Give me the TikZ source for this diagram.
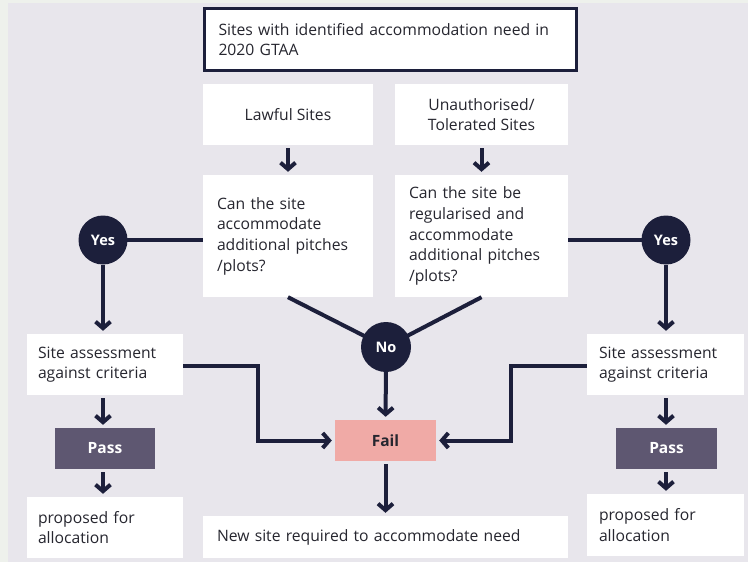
\documentclass[tikz,border=0pt]{standalone}
\usepackage{fontspec}
\setmainfont{Open Sans}
\usetikzlibrary{arrows.meta,calc}
\definecolor{navy}{HTML}{1C1F3B}
\definecolor{panel}{HTML}{E8E6EC}
\definecolor{outer}{HTML}{EEF1EC}
\definecolor{passc}{HTML}{5E5771}
\definecolor{failc}{HTML}{F0AAA6}
\definecolor{txt}{HTML}{26262F}
\tikzset{
  every node/.style={font=\fontsize{15.7}{20.7}\selectfont, text=txt},
  wbox/.style={fill=white, draw=none, inner ysep=0pt, align=left},
  cbox/.style={fill=white, draw=none, inner ysep=0pt, align=center},
  topbox/.style={fill=white, draw=navy, line width=3.5pt, inner ysep=0pt, align=left},
  passbox/.style={fill=passc, draw=none, text=white, font=\fontsize{15.5}{18}\selectfont\bfseries, inner sep=0pt},
  failbox/.style={fill=failc, draw=none, text=txt, font=\fontsize{15.5}{18}\selectfont\bfseries, inner sep=0pt},
  dot/.style={circle, fill=navy, draw=none, minimum size=#1, inner sep=0pt, text=white, font=\fontsize{14.5}{16}\selectfont\bfseries},
  conn/.style={draw=navy, line width=4pt},
  arr/.style={conn, -{Straight Barb[length=6.5pt,width=15pt]}, shorten <=3pt, shorten >=3pt},
}
\begin{document}
\begin{tikzpicture}[x=1pt,y=-1pt]
\fill[outer] (0,0) rectangle (748,562);
\fill[panel] (8,3) rectangle (748,562);
\useasboundingbox (0,0) rectangle (748,562);

\node[topbox, minimum height=62pt, text width=344pt, inner xsep=14pt] (top) at (390.5,39.5)
  {Sites with identified accommodation need in\\2020 GTAA};
\node[cbox, minimum width=170pt, minimum height=61pt] (lawful) at (288,114.5) {Lawful Sites};
\node[cbox, minimum width=173pt, minimum height=61pt] (unauth) at (481.5,114.5) {Unauthorised/\\Tolerated Sites};
\node[wbox, text width=142pt, inner xsep=14pt, minimum height=122pt] (qL) at (288,236)
  {Can the site\\accommodate\\additional pitches\\/plots?};
\node[wbox, text width=145pt, inner xsep=14pt, minimum height=122pt] (qR) at (481.5,236)
  {Can the site be\\regularised and\\accommodate\\additional pitches\\/plots?};

\node[wbox, text width=134pt, inner xsep=11pt, minimum height=61pt] (saL) at (105,364.5)
  {Site assessment\\against criteria};
\node[wbox, text width=133pt, inner xsep=12pt, minimum height=61pt] (saR) at (665.5,364.5)
  {Site assessment\\against criteria};
\node[passbox, minimum width=100pt, minimum height=41pt] (passL) at (105,448.5) {Pass};
\node[passbox, minimum width=101pt, minimum height=41pt] (passR) at (666.5,448.5) {Pass};
\node[wbox, text width=134pt, inner xsep=11pt, minimum height=61pt] (propL) at (105,527.5)
  {proposed for\\allocation};
\node[wbox, text width=133pt, inner xsep=12pt, minimum height=62pt] (propR) at (665.5,525)
  {proposed for\\allocation};
\node[failbox, minimum width=101pt, minimum height=41pt] (fail) at (385.5,440.5) {Fail};
\node[wbox, text width=337pt, inner xsep=14pt, minimum height=42pt] (newsite) at (385.5,537)
  {New site required to accommodate need};

% connectors drawn before circles
\draw[conn] (qL.south) -- (386,347);
\draw[conn] (qR.south) -- (386,347);
\draw[conn] (103,240) -- (qL.west |- 0,240);
\draw[conn] (666,240) -- (qR.east |- 0,240);

\node[dot=50pt] (no) at (386,347) {No};
\node[dot=49pt] (yesL) at (103,240) {Yes};
\node[dot=49pt] (yesR) at (666,240) {Yes};

\draw[arr] (lawful) -- (qL);
\draw[arr] (unauth) -- (qR);
\draw[arr, shorten <=0pt] (yesL) -- (yesL |- saL.north);
\draw[arr, shorten <=0pt] (yesR) -- (yesR |- saR.north);
\draw[arr, shorten <=0pt] (no) -- (fail);
\draw[arr] (fail) -- (newsite);
\draw[arr] (saL.south -| 103,0) -- (passL.north -| 103,0);
\draw[arr] (passL.south -| 103,0) -- (propL.north -| 103,0);
\draw[arr] (saR.south -| 666,0) -- (passR.north -| 666,0);
\draw[arr] (passR.south -| 666,0) -- (propR.north -| 666,0);
\draw[arr, shorten <=0pt] (saL.east |- 0,366) -- (258,366) |- (fail.west);
\draw[arr, shorten <=0pt] (saR.west |- 0,366) -- (511,366) |- (fail.east);
\end{tikzpicture}
\end{document}
